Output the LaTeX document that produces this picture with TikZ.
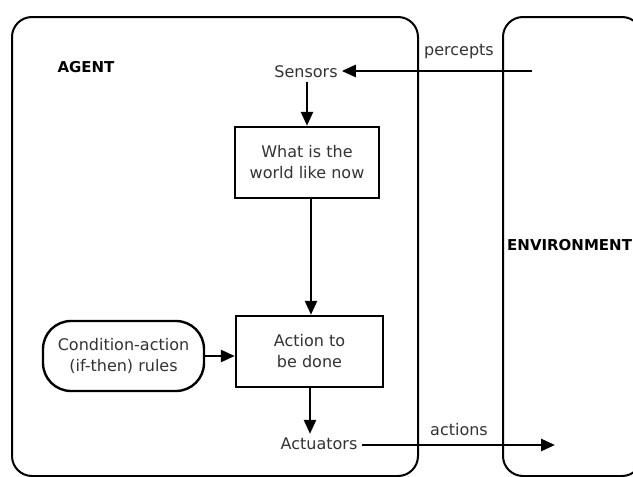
\documentclass[tikz,border=0pt]{standalone}
\usepackage{fontspec}
\setmainfont{DejaVu Sans}
\usetikzlibrary{arrows.meta}
\definecolor{txt}{HTML}{333333}
\tikzset{
  frame/.style={draw=black,line width=2pt,rounded corners=20pt},
  procbox/.style={draw=black,line width=2.4pt,align=center,text=txt,font=\fontsize{16}{21}\selectfont,inner sep=0pt},
  rulebox/.style={draw=black,line width=2.4pt,align=center,text=txt,font=\fontsize{16}{21}\selectfont,inner sep=0pt,rounded corners=28pt},
  plain/.style={text=txt,font=\fontsize{16}{21}\selectfont,inner sep=4pt},
  title/.style={text=black,font=\fontsize{15}{18}\selectfont\bfseries,inner sep=0pt},
  arr/.style={draw=black,line width=2.5pt,-{Triangle[length=14pt,width=12pt]}}
}
\begin{document}
\begin{tikzpicture}[x=1pt,y=-1pt]
\useasboundingbox (0,0) rectangle (633,477);
\clip (0,0) rectangle (633,477);
\fill[white] (0,0) rectangle (633,477);
% outer frames
\draw[frame] (12,17) rectangle (418,476);
\draw[frame] (503,17) rectangle (642,476);
% labels
\node[title] (agent) at (86,67) {AGENT};
\node[title,anchor=west] (env) at (507,245) {ENVIRONMENT};
% nodes
\node[plain] (sensors) at (306,72) {Sensors};
\node[procbox,minimum width=144pt,minimum height=71pt] (what) at (307,162.5) {What is the\\world like now};
\node[procbox,minimum width=147pt,minimum height=71pt] (act) at (309.5,351.5) {Action to\\be done};
\node[rulebox,minimum width=161pt,minimum height=70pt] (cond) at (123.5,356) {Condition-action\\(if-then) rules};
\node[plain] (actuators) at (319,444) {Actuators};
\node[plain] (percepts) at (459,52) {percepts};
\node[plain] (actions) at (459,430) {actions};
\coordinate (pstart) at (532,71);
\coordinate (aend) at (555,445);
% connectors
\draw[arr] (pstart) -- (sensors.east |- pstart);
\draw[arr] (sensors.south -| 307,0) -- (what.north -| 307,0);
\draw[arr] (what.south -| 311,0) -- (act.north -| 311,0);
\draw[arr] (cond.east) -- (act.west |- cond.east);
\draw[arr] (act.south -| 310,0) -- (actuators.north -| 310,0);
\draw[arr] (actuators.east |- aend) -- (aend);
\end{tikzpicture}
\end{document}
